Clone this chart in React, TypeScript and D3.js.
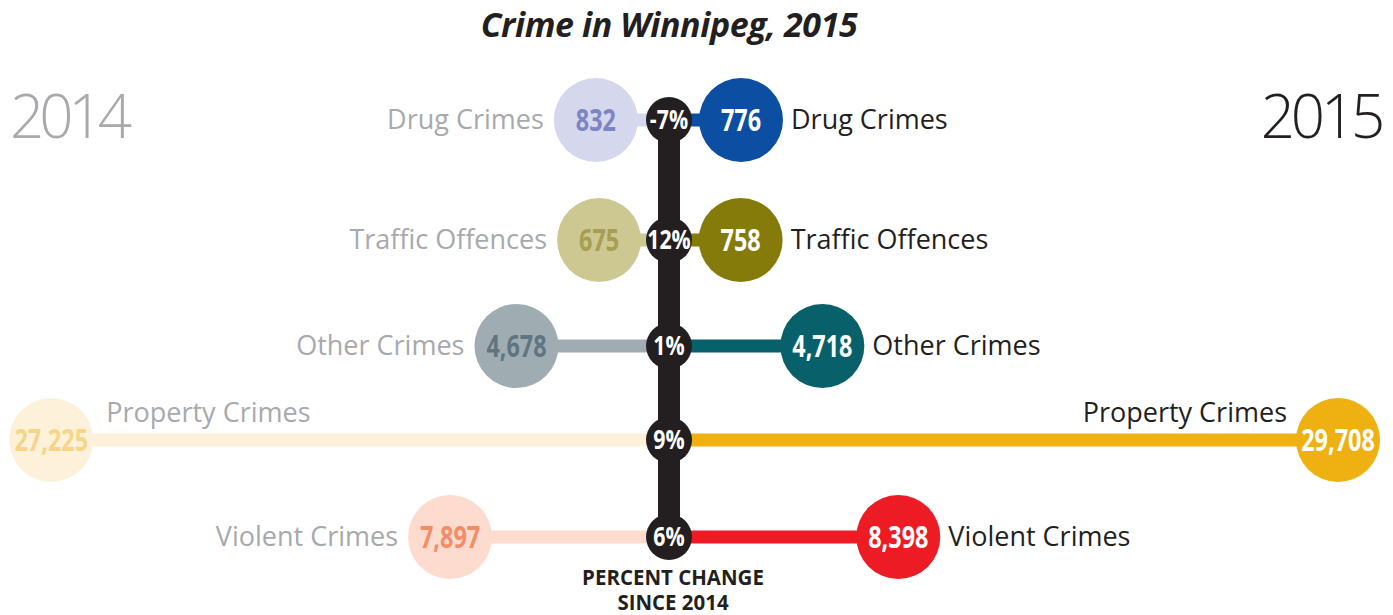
import React from "react";
import * as d3 from "d3";

const categories = ["Drug Crimes", "Traffic Offences", "Other Crimes", "Property Crimes", "Violent Crimes"];
const values2014 = [832, 675, 4678, 27225, 7897];
const values2015 = [776, 758, 4718, 29708, 8398];
const yearLabels = ["2014", "2015"];
const titleText = "Crime in Winnipeg, 2015";
const footnoteLines = ["PERCENT CHANGE", "SINCE 2014"];

// styles
const fill2014 = ["#d5d7ec", "#cdc792", "#9facb2", "#fdf1da", "#fddccf"];
const text2014 = ["#7b85c2", "#a69e50", "#5f7680", "#f7d487", "#f68b66"];
const fill2015 = ["#0b4ea2", "#847b0a", "#08606b", "#eeb111", "#ed1c24"];

const W = 1393;
const H = 615;
const CX = 669;
const rowY = [120, 240, 346, 440, 537];
const R = 42;
const RC = 23;
const LINE_W = 13;

const labelFont = "'Open Sans', 'DejaVu Sans', sans-serif";

function Cond({ x, y, s, size, fill, children, anchor = "middle", dy = "0.36em" }: any) {
  return (
    <g transform={`translate(${x},${y}) scale(${s},1)`}>
      <text x={0} y={0} dy={dy} textAnchor={anchor} fontFamily={labelFont} fontWeight={700} fontSize={size} fill={fill}>
        {children}
      </text>
    </g>
  );
}

export default function App() {
  const dist = d3.scaleLinear().domain([0, 29708]).range([56, 669]);
  const fmt = d3.format(",");
  const pct = (a: number, b: number) => `${Math.round(((b - a) / a) * 100)}%`;

  return (
    <svg width={W} height={H} style={{ position: "absolute", left: 0, top: 0, background: "#fff" }}>
      <text x={CX} y={37} textAnchor="middle" fontFamily={labelFont} fontWeight={700} fontStyle="italic" fontSize={34} fill="#231f20" letterSpacing={-0.4}>
        {titleText}
      </text>
      <text x={10} y={138} fontFamily={labelFont} fontWeight={300} fontSize={60} fill="#a7a9ac" letterSpacing={-5}>
        {yearLabels[0]}
      </text>
      <text x={1381} y={138} textAnchor="end" fontFamily={labelFont} fontWeight={300} fontSize={60} fill="#231f20" letterSpacing={-4.2}>
        {yearLabels[1]}
      </text>

      {/* vertical spine */}
      <rect x={CX - 11} y={rowY[0]} width={22} height={rowY[rowY.length - 1] - rowY[0]} fill="#231f20" />

      {categories.map((cat, i) => {
        const y = rowY[i];
        const xl = CX - dist(values2014[i]);
        const xr = CX + dist(values2015[i]);
        const isWide = i === 3;
        return (
          <g key={cat}>
            <line x1={xl} x2={CX} y1={y} y2={y} stroke={fill2014[i]} strokeWidth={LINE_W} />
            <line x1={CX} x2={xr} y1={y} y2={y} stroke={fill2015[i]} strokeWidth={LINE_W} />
            <circle cx={xl} cy={y} r={R} fill={fill2014[i]} />
            <circle cx={xr} cy={y} r={R} fill={fill2015[i]} />
            <Cond x={xl} y={y} s={0.78} size={30} fill={text2014[i]}>
              {fmt(values2014[i])}
            </Cond>
            <Cond x={xr} y={y} s={0.78} size={30} fill="#ffffff">
              {fmt(values2015[i])}
            </Cond>
            {isWide ? (
              <>
                <text x={xl + R + 13} y={y - 18} fontFamily={labelFont} fontSize={27} fill="#a7a9ac">
                  {cat}
                </text>
                <text x={xr - R - 9} y={y - 18} textAnchor="end" fontFamily={labelFont} fontSize={27} fill="#231f20">
                  {cat}
                </text>
              </>
            ) : (
              <>
                <text x={xl - R - 10} y={y} dy="0.35em" textAnchor="end" fontFamily={labelFont} fontSize={27} fill="#a7a9ac">
                  {cat}
                </text>
                <text x={xr + R + 8} y={y} dy="0.35em" fontFamily={labelFont} fontSize={27} fill="#231f20">
                  {cat}
                </text>
              </>
            )}
            <circle cx={CX} cy={y} r={RC} fill="#231f20" />
            <Cond x={CX} y={y} s={0.82} size={26} fill="#ffffff">
              {pct(values2014[i], values2015[i])}
            </Cond>
          </g>
        );
      })}

      <g transform={`translate(${CX + 4},585) scale(0.93,1)`}>
        <text x={0} y={0} textAnchor="middle" fontFamily={labelFont} fontWeight={700} fontSize={22} fill="#231f20">
          {footnoteLines.map((t, i) => (
            <tspan key={t} x={0} y={i * 25}>
              {t}
            </tspan>
          ))}
        </text>
      </g>
    </svg>
  );
}
